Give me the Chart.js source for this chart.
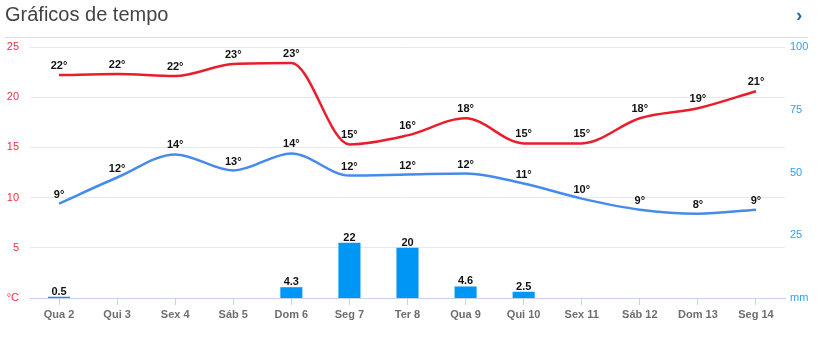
<!DOCTYPE html>
<html>
<head>
<meta charset="utf-8">
<script src="https://cdn.jsdelivr.net/npm/chart.js@4"></script>
<style>
  html, body { margin: 0; padding: 0; background: #fff; }
  #wrap { position: relative; width: 828px; height: 343px; }
  #titulo { position: absolute; left: 5px; top: 3px; font: 20px "Liberation Sans", Arial, sans-serif; color: #444; }
  #seta { position: absolute; left: 796px; top: 4px; font: bold 19px "Liberation Sans", Arial, sans-serif; color: #1a6fa8; }
  #linha { position: absolute; left: 5px; top: 37px; width: 803px; height: 1px; background: #e0e0e0; }
  canvas { position: absolute; left: 0; top: 0; }
</style>
</head>
<body>
<div id="wrap">
  <canvas id="tempoChart" width="828" height="343"></canvas>
  <div id="titulo">Gráficos de tempo</div>
  <div id="seta">&rsaquo;</div>
  <div id="linha"></div>
</div>
<script>
// Dias da previsão
const dias = ["Qua 2", "Qui 3", "Sex 4", "Sáb 5", "Dom 6", "Seg 7", "Ter 8", "Qua 9", "Qui 10", "Sex 11", "Sáb 12", "Dom 13", "Seg 14"];
// Temperatura máxima e mínima (°C)
const tempMax = [22.2, 22.3, 22.1, 23.3, 23.4, 15.3, 16.2, 17.9, 15.4, 15.4, 17.9, 18.9, 20.6];
const tempMin = [9.4, 12.0, 14.3, 12.7, 14.4, 12.2, 12.3, 12.4, 11.4, 9.9, 8.8, 8.4, 8.8];
// Precipitação (mm)
const chuva = [0.5, null, null, null, 4.3, 22, 20, 4.6, 2.5, null, null, null, null];
// Marcas dos eixos
const ticksTemp = [0, 5, 10, 15, 20, 25];
const ticksChuva = [0, 25, 50, 75, 100];

// Rótulos em cima dos pontos e das barras
const rotulos = {
    id: 'rotulos',
    afterDatasetsDraw(chart) {
        const ctx = chart.ctx;
        ctx.save();
        ctx.font = 'bold 11px "Liberation Sans", Arial, sans-serif';
        ctx.fillStyle = '#111';
        ctx.textAlign = 'center';
        ctx.textBaseline = 'middle';
        chart.data.datasets.forEach((ds, i) => {
            const meta = chart.getDatasetMeta(i);
            meta.data.forEach((el, j) => {
                const v = ds.data[j];
                if (v === null) return;
                if (ds.type === 'bar') {
                    ctx.fillText(String(v), el.x, el.y - 5);
                } else {
                    ctx.fillText(Math.round(v) + '°', el.x, el.y - 9);
                }
            });
        });
        ctx.restore();
    }
};

const ctx = document.getElementById('tempoChart').getContext('2d');
const tempoChart = new Chart(ctx, {
    data: {
        labels: dias,
        datasets: [
            {
                type: 'line',
                label: 'Máx',
                data: tempMax,
                yAxisID: 'yTemp',
                borderColor: 'rgb(232, 30, 45)',
                borderWidth: 2.5,
                pointRadius: 0,
                cubicInterpolationMode: 'monotone',
                order: 1
            },
            {
                type: 'line',
                label: 'Mín',
                data: tempMin,
                yAxisID: 'yTemp',
                borderColor: 'rgb(70, 138, 235)',
                borderWidth: 2.5,
                pointRadius: 0,
                cubicInterpolationMode: 'monotone',
                order: 2
            },
            {
                type: 'bar',
                label: 'Chuva',
                data: chuva,
                yAxisID: 'yChuva',
                backgroundColor: 'rgb(0, 150, 245)',
                barPercentage: 0.38,
                categoryPercentage: 1,
                order: 3
            }
        ]
    },
    options: {
        responsive: false,
        animation: false,
        layout: { padding: { top: 47, left: 0, right: 0, bottom: 0 } },
        plugins: {
            legend: { display: false },
            tooltip: { enabled: false }
        },
        scales: {
            x: {
                offset: true,
                afterFit: (s) => { s.height = 45; },
                border: { color: '#c4d2ea', width: 1 },
                grid: { offset: false, drawOnChartArea: false, drawTicks: true, tickLength: 7, color: '#c4d2ea' },
                ticks: {
                    font: { family: '"Liberation Sans", Arial, sans-serif', size: 11, weight: 'bold' },
                    color: '#6e6e6e',
                    padding: 3,
                    maxRotation: 0,
                    autoSkip: false
                }
            },
            yTemp: {
                position: 'left',
                min: 0,
                max: 25,
                afterFit: (s) => { s.width = 30; },
                afterBuildTicks: (s) => { s.ticks = ticksTemp.map(v => ({ value: v })); },
                border: { display: false },
                grid: {
                    drawTicks: false,
                    color: (c) => c.tick && c.tick.value === 0 ? 'rgba(0,0,0,0)' : '#e8e8e8'
                },
                ticks: {
                    font: { family: '"Liberation Sans", Arial, sans-serif', size: 11 },
                    color: 'rgb(240, 50, 65)',
                    padding: 11,
                    callback: (v) => v === 0 ? '°C' : v
                }
            },
            yChuva: {
                position: 'right',
                min: 0,
                max: 100,
                afterFit: (s) => { s.width = 43; },
                afterBuildTicks: (s) => { s.ticks = ticksChuva.map(v => ({ value: v })); },
                border: { display: false },
                grid: { display: false, drawTicks: false },
                ticks: {
                    font: { family: '"Liberation Sans", Arial, sans-serif', size: 11 },
                    color: 'rgb(50, 160, 240)',
                    padding: 5,
                    callback: (v) => v === 0 ? 'mm' : v
                }
            }
        }
    },
    plugins: [rotulos]
});
</script>
</body>
</html>
